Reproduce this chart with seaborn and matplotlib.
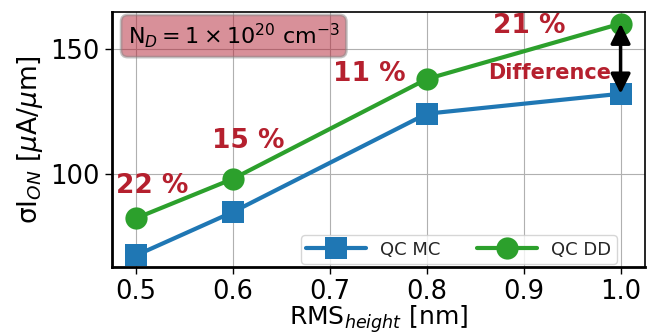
import matplotlib
matplotlib.use("Agg")
import matplotlib.pyplot as plt
import seaborn as sns
import pandas as pd

rms = [0.5, 0.6, 0.8, 1.0]
qc_mc = [67.2, 84.6, 124.0, 132.0]
qc_dd = [82.1, 97.9, 137.9, 160.1]
pct_labels = ["22 %", "15 %", "11 %", "21 %"]
pct_x = [0.517, 0.616, 0.741, 0.906]
pct_y = [95, 113, 140, 159]

sns.set_theme(style="ticks")
plt.rcParams['font.family'] = ['DejaVu Sans']

df = pd.DataFrame({
    "rms": rms * 2,
    "val": qc_mc + qc_dd,
    "series": ["QC MC"] * len(rms) + ["QC DD"] * len(rms),
})

fig, ax = plt.subplots(figsize=(6.5, 3.35), dpi=100)
fig.subplots_adjust(left=0.172, right=0.992, top=0.964, bottom=0.203)

sns.lineplot(data=df, x="rms", y="val", hue="series", style="series",
             palette={"QC MC": "#1f77b4", "QC DD": "#2ca02c"},
             markers={"QC MC": "s", "QC DD": "o"}, dashes=False,
             markersize=16, linewidth=3, markeredgewidth=0, ax=ax)

ax.grid(True, color="#b0b0b0", linewidth=0.8)
for s in ax.spines.values():
    s.set_color("black")
    s.set_linewidth(1.2)
for side in ["left", "bottom"]:
    ax.spines[side].set_linewidth(2)

ax.set_xticks([0.5, 0.6, 0.7, 0.8, 0.9, 1.0])
ax.set_yticks([100, 150])
ax.tick_params(labelsize=18.5, length=5, width=1, colors="black")
ax.set_xlabel(r"RMS$_{height}$ [nm]", fontsize=18, color="black", labelpad=-1)
ax.set_ylabel(r"σI$_{ON}$ [$\mu$A/$\mu$m]", fontsize=19, color="black", labelpad=4)

red = "#b5202e"
for lab, x, y in zip(pct_labels, pct_x, pct_y):
    ax.text(x, y, lab, color=red, fontsize=19, fontweight="bold",
            ha="center", va="center")
ax.text(0.927, 140.4, "Difference", color=red, fontsize=15,
        fontweight="bold", ha="center", va="center")

ax.annotate("", xy=(rms[-1], qc_mc[-1]), xytext=(rms[-1], qc_dd[-1]),
            arrowprops=dict(arrowstyle="<|-|>", color="black", lw=2.5,
                            mutation_scale=30, shrinkA=0, shrinkB=0))

ax.text(0.03, 0.906, r"N$_{D} = 1 \times 10^{20}$ cm$^{-3}$", transform=ax.transAxes,
        fontsize=16, ha="left", va="center", color="black",
        bbox=dict(boxstyle="round,pad=0.3", facecolor="#b22234", edgecolor="#888888", alpha=0.5, lw=2))

handles, labels = ax.get_legend_handles_labels()
ax.legend(handles, labels, loc="lower right", bbox_to_anchor=(0.947, 0.012),
          borderaxespad=0, ncol=2, fontsize=13,
          handlelength=3.3, markerscale=1.0, frameon=True, borderpad=0.3,
          columnspacing=2.0)

fig.savefig("out.png", dpi=100)
